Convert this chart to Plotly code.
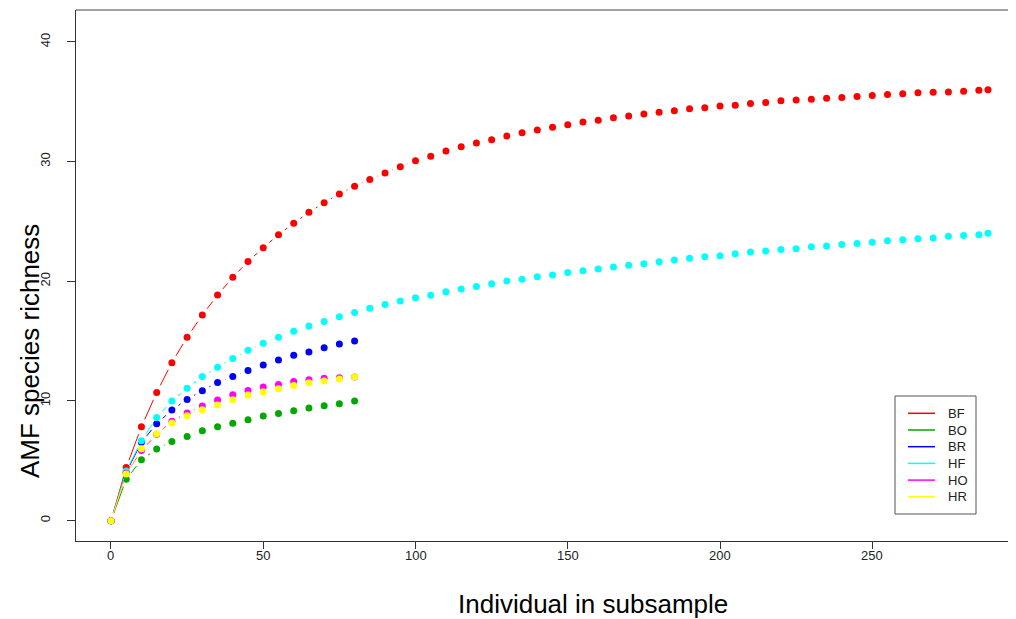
import math
import plotly.graph_objects as go

# ---- data ----
x_short = list(range(0, 81, 5))
x_long = list(range(0, 286, 5)) + [288]

BF = [0, 4.43, 7.85, 10.71, 13.2, 15.33, 17.17, 18.85, 20.33, 21.65, 22.8, 23.89, 24.84,
      25.76, 26.56, 27.29, 27.94, 28.51, 29.04, 29.57, 30.07, 30.45, 30.88, 31.24, 31.55,
      31.83, 32.13, 32.41, 32.63, 32.86, 33.08, 33.3, 33.45, 33.66, 33.8, 33.97, 34.11,
      34.25, 34.4, 34.49, 34.63, 34.71, 34.85, 34.93, 35.07, 35.15, 35.21, 35.29, 35.35,
      35.43, 35.51, 35.6, 35.66, 35.74, 35.79, 35.82, 35.88, 35.95, 36.0]
HF = [0, 4.15, 6.67, 8.62, 9.99, 11.07, 12.04, 12.82, 13.55, 14.23, 14.82, 15.33, 15.83,
      16.27, 16.64, 17.03, 17.39, 17.75, 18.06, 18.34, 18.62, 18.82, 19.12, 19.35, 19.57,
      19.79, 20.02, 20.16, 20.37, 20.52, 20.74, 20.88, 21.02, 21.19, 21.33, 21.46, 21.63,
      21.77, 21.92, 22.05, 22.13, 22.3, 22.44, 22.52, 22.66, 22.71, 22.88, 22.94, 23.08,
      23.16, 23.25, 23.38, 23.46, 23.55, 23.61, 23.75, 23.83, 23.88, 24.0]
BO = [0, 3.46, 5.09, 5.98, 6.62, 7.04, 7.52, 7.85, 8.13, 8.43, 8.74, 8.96, 9.19, 9.41, 9.6, 9.77, 10.0]
BR = [0, 4.05, 6.54, 8.1, 9.24, 10.13, 10.86, 11.55, 12.05, 12.55, 13.0, 13.42, 13.81, 14.09, 14.45, 14.75, 15.0]
HO = [0, 3.95, 5.85, 7.21, 8.3, 8.99, 9.57, 10.08, 10.52, 10.88, 11.16, 11.38, 11.63, 11.77, 11.89, 11.94, 12.0]
HR = [0, 3.9, 6.01, 7.26, 8.16, 8.77, 9.27, 9.66, 10.1, 10.5, 10.77, 11.02, 11.3, 11.52, 11.66, 11.83, 12.0]

names = ["BF", "BO", "BR", "HF", "HO", "HR"]
xs = [x_long, x_short, x_short, x_long, x_short, x_short]
ys = [BF, BO, BR, HF, HO, HR]
colors = ["#FF0000", "#00A800", "#0000FF", "#00FFFF", "#FF00FF", "#FFFF00"]

x_ticks = [0, 50, 100, 150, 200, 250]
y_ticks = [0, 10, 20, 30, 40]

FONT = "Liberation Sans, Arial, sans-serif"

X_RANGE = [-11.49, 297.2]
Y_RANGE = [-1.70, 42.66]

# plot area in page pixels (the page body adds an 8 px offset)
PL, PT, PW, PH = 76, 10, 940, 531
SX = PW / (X_RANGE[1] - X_RANGE[0])   # px per x unit
SY = PH / (Y_RANGE[1] - Y_RANGE[0])   # px per y unit
GAP = 8.0                              # R type="b": line stops short of each point


def px(xp):
    return (xp - PL) / PW


def py(yp):
    return (PT + PH - yp) / PH


def gapped(x, y):
    """Connecting segments between consecutive points, shortened at both ends (type='b')."""
    gx, gy = [], []
    for i in range(len(x) - 1):
        dx, dy = (x[i + 1] - x[i]) * SX, (y[i + 1] - y[i]) * SY
        L = math.hypot(dx, dy)
        if L <= 2 * GAP:
            continue
        f = GAP / L
        gx += [x[i] + f * (x[i + 1] - x[i]), x[i + 1] - f * (x[i + 1] - x[i]), None]
        gy += [y[i] + f * (y[i + 1] - y[i]), y[i + 1] - f * (y[i + 1] - y[i]), None]
    return gx, gy


fig = go.Figure()
for n, x, y, c in zip(names, xs, ys, colors):
    gx, gy = gapped(x, y)
    fig.add_trace(go.Scatter(x=gx, y=gy, mode="lines", name=n, legendgroup=n,
                             line=dict(color=c, width=1), showlegend=False,
                             hoverinfo="skip"))
    fig.add_trace(go.Scatter(x=x, y=y, mode="markers", name=n, legendgroup=n,
                             marker=dict(color=c, size=7), showlegend=False))

shapes = [dict(type="line", xref="paper", yref="paper", x0=0, x1=1, y0=1, y1=1,
               line=dict(color="#444", width=1))]
annotations = []

# x tick labels
for v in x_ticks:
    annotations.append(dict(text=str(v), xref="x", yref="paper", x=v, y=py(555),
                            xanchor="center", yanchor="middle", showarrow=False,
                            font=dict(size=13, color="#222", family=FONT)))

# legend box (drawn like R's legend())
shapes.append(dict(type="rect", xref="paper", yref="paper", x0=px(895), x1=px(976),
                   y0=py(514), y1=py(396), line=dict(color="#555", width=1),
                   fillcolor="white", layer="above"))
for i, (n, c) in enumerate(zip(names, colors)):
    yy = 413.3 + i * 16.7
    shapes.append(dict(type="line", xref="paper", yref="paper", x0=px(908), x1=px(935),
                       y0=py(yy), y1=py(yy), line=dict(color=c, width=1.5), layer="above"))
    annotations.append(dict(text=n, xref="paper", yref="paper", x=px(946), y=py(yy),
                            xanchor="left", yanchor="middle", showarrow=False,
                            font=dict(size=13, color="#222", family=FONT)))

annotations += [
    dict(text="Individual in subsample", xref="paper", yref="paper",
         x=px(593), y=py(604), xanchor="center", yanchor="middle",
         showarrow=False, font=dict(size=26, color="#000", family=FONT)),
    dict(text="AMF species richness", xref="paper", yref="paper",
         x=px(30), y=py(351), xanchor="center", yanchor="middle",
         textangle=-90, showarrow=False, font=dict(size=26, color="#000", family=FONT)),
]

fig.update_layout(
    width=1008, height=611,
    margin=dict(l=68, r=0, t=2, b=78),
    paper_bgcolor="white", plot_bgcolor="white",
    font=dict(family=FONT, color="#222"),
    showlegend=False,
    xaxis=dict(range=X_RANGE, tickvals=x_ticks, ticks="outside", ticklen=7,
               tickcolor="#333", showline=True, linecolor="#333", linewidth=1,
               showgrid=False, zeroline=False, showticklabels=False),
    yaxis=dict(range=Y_RANGE, tickvals=y_ticks, ticks="outside", ticklen=8,
               tickcolor="#333", showline=True, linecolor="#333", linewidth=1,
               showgrid=False, zeroline=False, tickangle=-90, ticklabelstandoff=12,
               tickfont=dict(size=13, color="#222")),
    shapes=shapes,
    annotations=annotations,
)

fig.write_html("out.html")
